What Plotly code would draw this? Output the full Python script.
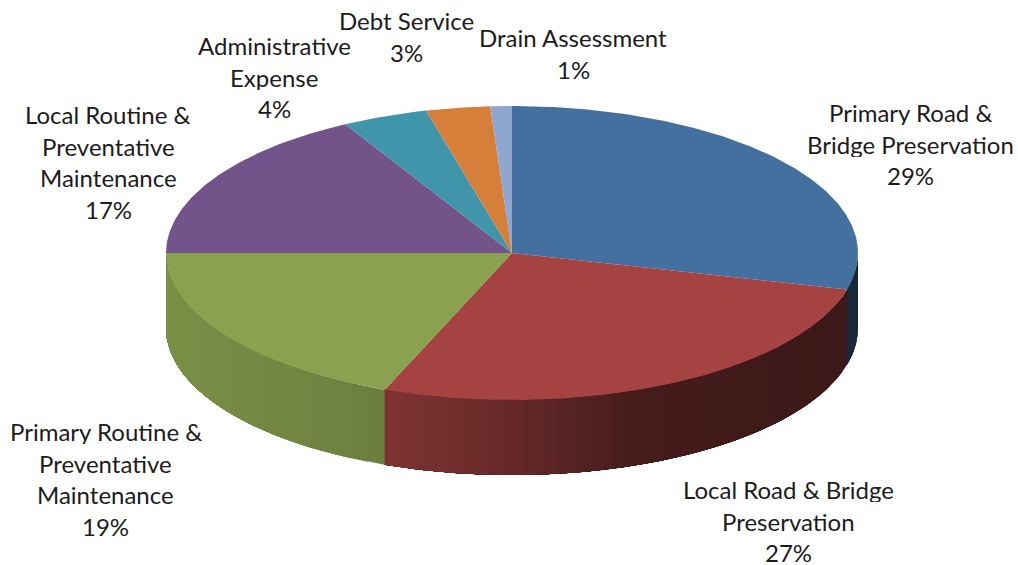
# 3D style pie drawn with filled scatter traces, plotly has no tilted pie
import numpy as np
import plotly.graph_objects as go

categories = [
    ["Primary Road &", "Bridge Preservation"],
    ["Local Road & Bridge", "Preservation"],
    ["Primary Routine &", "Preventative", "Maintenance"],
    ["Local Routine &", "Preventative", "Maintenance"],
    ["Administrative", "Expense"],
    ["Debt Service"],
    ["Drain Assessment"],
]
shares = [29, 27, 19, 17, 4, 3, 1]
colors = ["#44709f", "#a44341", "#8aa14f", "#72548a", "#4095aa", "#d67f3a", "#8fa6cf"]

# where each label block sits (centre x, first line y)
label_x = [910, 788.5, 105.5, 108, 274, 406, 573]
label_y = [112, 489, 431, 114, 45, 20, 37]
line_step = 31.5

# pie geometry in picture pixels
cx, cy = 512, 253
rx, ry = 346, 147
depth = 75

# how dark the wall gets going from left rim to right rim
shade_x = [-346, -127, 0, 130, 346]
shade_k = [0.89, 0.79, 0.62, 0.42, 0.36]


def rim(theta):
    # theta is clockwise from 12 o'clock, in radians
    return cx + rx * np.sin(theta), cy - ry * np.cos(theta)


def darken(hex_color, k):
    r, g, b = [int(hex_color[i:i + 2], 16) for i in (1, 3, 5)]
    return f"rgb({r * k:.0f},{g * k:.0f},{b * k:.0f})"


def add_poly(fig, x, y, color):
    fig.add_trace(go.Scatter(
        x=list(x), y=list(y), mode="lines", fill="toself", fillcolor=color,
        line=dict(width=0), hoverinfo="skip", showlegend=False,
    ))


fig = go.Figure()
edges = np.cumsum([0] + shares) / sum(shares) * 2 * np.pi

# walls first, only the part of the rim that faces the viewer
# each band runs on to the slice end and the next one paints over it, so no seams
for i, color in enumerate(colors):
    start = max(edges[i], np.pi / 2)
    end = min(edges[i + 1], 3 * np.pi / 2)
    if end <= start:
        continue
    n = max(2, int((end - start) / 0.05))
    for a in np.linspace(start, end, n + 1)[:-1]:
        arc = np.linspace(a, end, 60)
        x, y = rim(arc)
        k = np.interp(x[0] - cx, shade_x, shade_k)
        add_poly(fig, np.r_[x, x[::-1]], np.r_[y, y[::-1] + depth], darken(color, k))

# top face
for i, color in enumerate(colors):
    n = max(8, int((edges[i + 1] - edges[i]) / 0.01))
    x, y = rim(np.linspace(edges[i], edges[i + 1], n))
    add_poly(fig, np.r_[cx, x, cx], np.r_[cy, y, cy], color)

# labels, one annotation per line to keep the tight line spacing
for lines, share, lx, ly in zip(categories, shares, label_x, label_y):
    for j, text in enumerate(lines + [f"{share}%"]):
        fig.add_annotation(
            x=lx, y=ly + j * line_step, text=text, showarrow=False,
            xanchor="center", yanchor="middle", height=26,
            font=dict(family="Lato", size=24, color="#1c1c1c"),
        )

fig.update_layout(
    width=1018, height=565, margin=dict(l=0, r=0, t=0, b=0),
    paper_bgcolor="white", plot_bgcolor="white", showlegend=False,
    xaxis=dict(range=[0, 1018], visible=False, fixedrange=True),
    yaxis=dict(range=[565, 0], visible=False, fixedrange=True),
)
# the default page body has an 8px margin that would shift the whole chart
fig.write_html("out.html", config=dict(displayModeBar=False),
               post_script="document.body.style.margin='0';")
